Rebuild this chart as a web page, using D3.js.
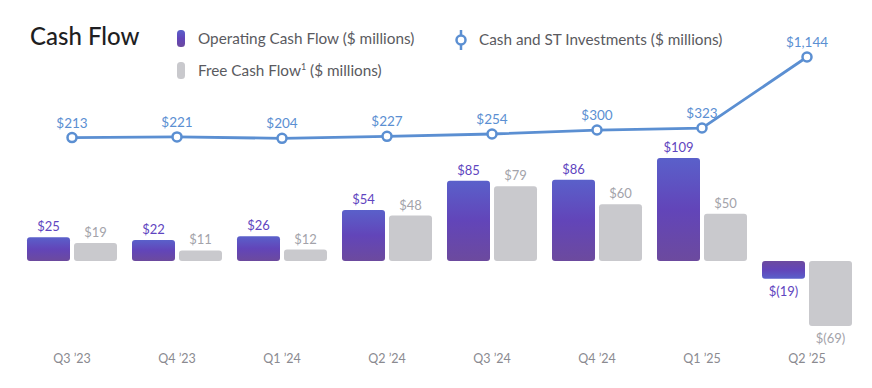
<!DOCTYPE html>
<html><head><meta charset="utf-8">
<script src="https://cdn.jsdelivr.net/npm/d3@7"></script>
<style>body{margin:0;background:#fff;} svg{display:block;font-family:Lato,"Open Sans",sans-serif;}</style>
</head><body>
<svg id="c" width="872" height="388"></svg>
<script>
const quarters = ["Q3 \u201923","Q4 \u201923","Q1 \u201924","Q2 \u201924","Q3 \u201924","Q4 \u201924","Q1 \u201925","Q2 \u201925"];
const operatingCF = [25,22,26,54,85,86,109,-19];
const freeCF = [19,11,12,48,79,60,50,-69];
const cashST = [213,221,204,227,254,300,323,1144];
const fmt = v => v < 0 ? "$(" + d3.format(",")(-v) + ")" : "$" + d3.format(",")(v);

const svg = d3.select("#c");
const defs = svg.append("defs");
function grad(id, flip){
  const g = defs.append("linearGradient").attr("id", id).attr("x1",0).attr("y1",flip?1:0).attr("x2",0).attr("y2",flip?0:1);
  g.append("stop").attr("offset","0%").attr("stop-color","#5a60ca");
  g.append("stop").attr("offset","50%").attr("stop-color","#6245b9");
  g.append("stop").attr("offset","100%").attr("stop-color","#6c4a9e");
}
grad("gPos", false); grad("gNeg", true);

const x = d3.scaleBand().domain(quarters).range([19.5, 859.5]).paddingInner(15/105).paddingOuter(7.5/105);
const xs = d3.scaleBand().domain(["ocf","fcf"]).range([0, x.bandwidth()]).paddingInner(4/47);
const y = d3.scaleLinear().domain([-69, 109]).range([326, 158]);
const yl = d3.scaleLinear().domain([0, 1144]).range([156, 57]);

// bars
const gq = svg.append("g").selectAll("g").data(quarters).join("g").attr("transform", d => `translate(${x(d)},0)`);
function bar(sel, key, vals, fill){
  sel.append("rect")
    .attr("x", xs(key)).attr("width", xs.bandwidth())
    .attr("y", (d,i) => y(Math.max(0, vals[i])))
    .attr("height", (d,i) => Math.abs(y(vals[i]) - y(0)))
    .attr("rx", 3).attr("fill", (d,i) => fill(vals[i]));
}
bar(gq, "ocf", operatingCF, v => v >= 0 ? "url(#gPos)" : "url(#gNeg)");
bar(gq, "fcf", freeCF, v => "#c9c9cd");
function labels(sel, key, vals, color){
  sel.append("text")
    .attr("x", xs(key) + xs.bandwidth()/2)
    .attr("y", (d,i) => vals[i] >= 0 ? y(vals[i]) - 6 : y(vals[i]) + 17)
    .attr("text-anchor","middle").attr("font-size", 13)
    .attr("fill", color).text((d,i) => fmt(vals[i]));
}
labels(gq, "ocf", operatingCF, "#5f45c0");
labels(gq, "fcf", freeCF, "#a3a3aa");

// line
const lx = d => x(d) + x.bandwidth()/2;
svg.append("path").datum(quarters)
  .attr("d", d3.line().x(d => lx(d)).y((d,i) => yl(cashST[i])))
  .attr("fill","none").attr("stroke","#5b8fd2").attr("stroke-width",2.8);
svg.append("g").selectAll("circle").data(quarters).join("circle")
  .attr("cx", d => lx(d)).attr("cy", (d,i) => yl(cashST[i])).attr("r", 4.5)
  .attr("fill","#fff").attr("stroke","#5b8fd2").attr("stroke-width",2.5);
svg.append("g").selectAll("text").data(quarters).join("text")
  .attr("x", d => lx(d)).attr("y", (d,i) => yl(cashST[i]) - 10)
  .attr("text-anchor","middle").attr("font-size",13.5).attr("fill","#5b8fd2")
  .text((d,i) => fmt(cashST[i]));

// x axis
const ax = svg.append("g").attr("transform","translate(0,354)")
  .call(d3.axisBottom(x).tickSize(0).tickPadding(0));
ax.select(".domain").remove();
ax.selectAll("text").attr("font-size",12.5).attr("fill","#8a8a90").attr("font-family","Lato, sans-serif");

// title & legend
svg.append("text").attr("x",30).attr("y",45).attr("font-size",24).attr("font-weight",500).attr("fill","#1e1e22").text("Cash Flow");
svg.append("rect").attr("x",177).attr("y",30).attr("width",8).attr("height",17).attr("rx",3.5).attr("fill","url(#gPos)");
svg.append("text").attr("x",198).attr("y",43.5).attr("font-size",15.3).attr("fill","#5a5a60").text("Operating Cash Flow ($ millions)");
svg.append("rect").attr("x",177).attr("y",62).attr("width",8).attr("height",17).attr("rx",3.5).attr("fill","#c9c9cd");
const t2 = svg.append("text").attr("x",198).attr("y",75.5).attr("font-size",15.3).attr("fill","#5a5a60");
t2.append("tspan").text("Free Cash Flow");
t2.append("tspan").attr("font-size",9).attr("dy",-6).text("1");
t2.append("tspan").attr("dy",6).text(" ($ millions)");
svg.append("line").attr("x1",461).attr("x2",461).attr("y1",30).attr("y2",50).attr("stroke","#5b8fd2").attr("stroke-width",2.5);
svg.append("circle").attr("cx",461).attr("cy",40).attr("r",4.5).attr("fill","#fff").attr("stroke","#5b8fd2").attr("stroke-width",2.5);
svg.append("text").attr("x",479).attr("y",44.5).attr("font-size",15.3).attr("fill","#5a5a60").text("Cash and ST Investments ($ millions)");
</script>
</body></html>
